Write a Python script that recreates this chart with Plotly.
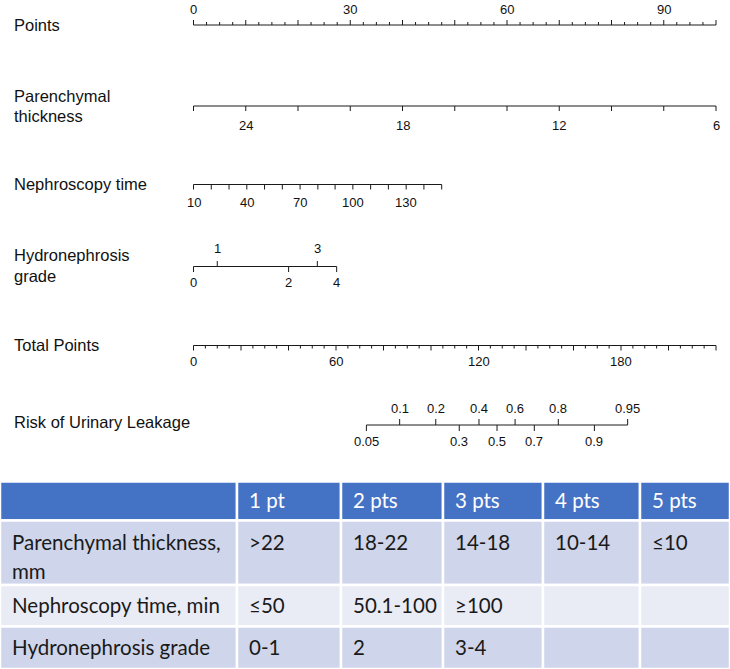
import numpy as np
import plotly.graph_objects as go

# ---------------- data ----------------
# Points scale
points_labels = [0, 30, 60, 90]
points_major = [0, 10, 20, 30, 40, 50, 60, 70, 80, 90, 100]
points_minor = list(np.arange(0, 100.01, 2.5))

# Parenchymal thickness (mm) -> points
thick_vals = [26, 24, 22, 20, 18, 16, 14, 12, 10, 8, 6]
thick_pts = [0, 10, 20, 30, 40, 50, 60, 70, 80, 90, 100]
thick_labels = [24, 18, 12, 6]

# Nephroscopy time (min) -> points
time_vals = [10, 20, 30, 40, 50, 60, 70, 80, 90, 100, 110, 120, 130, 140, 150]
time_pts = [0, 3.4, 6.8, 10.2, 13.6, 17.0, 20.4, 23.8, 27.1, 30.5, 33.9, 37.3, 40.7, 44.1, 47.5]
time_labels = [10, 40, 70, 100, 130]

# Hydronephrosis grade -> points
hydro_vals = [0, 1, 2, 3, 4]
hydro_pts = [0, 4.55, 18.2, 23.7, 27.4]
hydro_above = [1, 3]

# Total points scale
total_labels = [0, 60, 120, 180]
total_major = [0, 20, 40, 60, 80, 100, 120, 140, 160, 180, 200, 220]
total_minor = list(np.arange(0, 220.01, 5))

# Risk of urinary leakage -> total points
risk_vals = [0.05, 0.1, 0.2, 0.3, 0.4, 0.5, 0.6, 0.7, 0.8, 0.9, 0.95]
risk_total = [72.8, 86.8, 102.0, 111.9, 120.2, 127.8, 135.4, 143.5, 153.6, 168.8, 182.8]
risk_above = [0.1, 0.2, 0.4, 0.6, 0.8, 0.95]

row_names = ["Points", "Parenchymal<br>thickness", "Nephroscopy time",
             "Hydronephrosis<br>grade", "Total Points", "Risk of Urinary Leakage"]

# Score table
table_header = ["", "1 pt", "2 pts", "3 pts", "4 pts", "5 pts"]
table_rows = ["Parenchymal thickness,<br>mm", "Nephroscopy time, min", "Hydronephrosis grade"]
col_1pt = [">22", "≤50", "0-1"]
col_2pts = ["18-22", "50.1-100", "2"]
col_3pts = ["14-18", "≥100", "3-4"]
col_4pts = ["10-14", "", ""]
col_5pts = ["≤10", "", ""]

# ---------------- layout constants ----------------
W, H = 730, 669
X0 = 193.5       # pixel of 0 points
X100 = 716.0     # pixel of 100 points / 220 total points
pp = (X100 - X0) / 100.0
tp = (X100 - X0) / 220.0
LINE = "#1a1a1a"
FONT = "Liberation Sans, Arial, sans-serif"

y_rows = [25, 106, 184.5, 266.5, 345.5, 425]
label_y = [[25], [96, 116], [184], [255, 276], [345], [422]]

fig = go.Figure()
annotations = []
shapes = []


def add_line_trace(xs, ys, xaxis="x"):
    fig.add_trace(go.Scatter(x=xs, y=ys, mode="lines", xaxis=xaxis, yaxis="y",
                             line=dict(color=LINE, width=1), hoverinfo="skip",
                             showlegend=False))


def axis_row(y, pos, lab_text, tick_len, up_flags, lab_off, xaxis="x",
             minor_pos=None, minor_len=3):
    add_line_trace([min(pos), max(pos)], [y, y], xaxis)
    tx, ty = [], []
    for p, up in zip(pos, up_flags):
        tx += [p, p, None]
        ty += [y, y - tick_len if up else y + tick_len, None]
    if minor_pos is not None:
        for p, up in minor_pos:
            tx += [p, p, None]
            ty += [y, y - minor_len if up else y + minor_len, None]
    add_line_trace(tx, ty, xaxis)
    for p, t, up in lab_text:
        annotations.append(dict(x=p, y=(y - lab_off[0]) if up else (y + lab_off[1]),
                                xref=xaxis, yref="y", text=str(t), showarrow=False,
                                xanchor="center", yanchor="middle",
                                font=dict(family=FONT, size=13, color="#111")))


# Points row
axis_row(y_rows[0], points_major,
         [(v, v, True) for v in points_labels], 5, [True] * len(points_major), (16, 16),
         minor_pos=[(m, True) for m in points_minor if m not in points_major], minor_len=3)

# Parenchymal thickness
axis_row(y_rows[1], thick_pts,
         [(thick_pts[thick_vals.index(v)], v, False) for v in thick_labels], 5,
         [False] * len(thick_pts), (18, 19))

# Nephroscopy time
axis_row(y_rows[2], time_pts,
         [(time_pts[time_vals.index(v)], v, False) for v in time_labels], 5,
         [False] * len(time_pts), (18, 18))

# Hydronephrosis grade
axis_row(y_rows[3], hydro_pts,
         [(hp, hv, hv in hydro_above) for hv, hp in zip(hydro_vals, hydro_pts)], 5.5,
         [hv in hydro_above for hv in hydro_vals], (18, 16))

# Total points
axis_row(y_rows[4], total_major,
         [(v, v, False) for v in total_labels], 5, [False] * len(total_major), (16, 16),
         xaxis="x2",
         minor_pos=[(m, False) for m in total_minor if m not in total_major], minor_len=3)

# Risk
axis_row(y_rows[5], risk_total,
         [(rt, rv, rv in risk_above) for rv, rt in zip(risk_vals, risk_total)], 6,
         [rv in risk_above for rv in risk_vals], (17, 16), xaxis="x2")

# Row names
for name, ys in zip(row_names, label_y):
    for line, yy in zip(name.split("<br>"), ys):
        annotations.append(dict(x=12 / W, y=1 - yy / H, xref="paper", yref="paper",
                                text=line, showarrow=False, xanchor="left",
                                yanchor="middle",
                                font=dict(family=FONT, size=16.5, color="#111")))

# ---------------- table ----------------
cols_x = [0, 237, 341, 443, 543, 640, 730]
rows_y = [481.5, 520.5, 585, 626.5, 669]
fills = ["#4472C4", "#CFD5EA", "#E9EBF5", "#CFD5EA"]
TFONT = "Lato, Open Sans, sans-serif"
body_cols = [table_rows, col_1pt, col_2pts, col_3pts, col_4pts, col_5pts]

for r in range(4):
    for c in range(6):
        shapes.append(dict(type="rect", xref="paper", yref="paper",
                           x0=cols_x[c] / W, x1=cols_x[c + 1] / W,
                           y0=1 - rows_y[r] / H, y1=1 - rows_y[r + 1] / H,
                           fillcolor=fills[r], line=dict(color="white", width=2.5),
                           layer="below"))
        if r == 0:
            txt = table_header[c]
            color = "white"
            first_y = 500
        else:
            txt = body_cols[c][r - 1]
            color = "#1a1a1a"
            first_y = [541.5, 605, 646.5][r - 1]
        if not txt:
            continue
        for k, line in enumerate(txt.split("<br>")):
            annotations.append(dict(x=(cols_x[c] + 10) / W, y=1 - (first_y + 29 * k) / H,
                                    xref="paper", yref="paper", text=line,
                                    showarrow=False, xanchor="left", yanchor="middle",
                                    font=dict(family=TFONT, size=20.5, color=color)))

fig.update_layout(
    width=W, height=H, margin=dict(l=0, r=0, t=0, b=0),
    paper_bgcolor="white", plot_bgcolor="white",
    xaxis=dict(range=[-X0 / pp, 100 + (W - X100) / pp], visible=False, domain=[0, 1],
               fixedrange=True),
    xaxis2=dict(range=[-X0 / tp, 220 + (W - X100) / tp], visible=False,
                overlaying="x", fixedrange=True),
    yaxis=dict(range=[H, 0], visible=False, domain=[0, 1], fixedrange=True),
    annotations=annotations, shapes=shapes, showlegend=False,
)

fig.write_html("out.html", config={"displayModeBar": False},
               post_script="document.body.style.margin='0';document.body.style.padding='0';"
                           "document.body.style.overflow='hidden';")
